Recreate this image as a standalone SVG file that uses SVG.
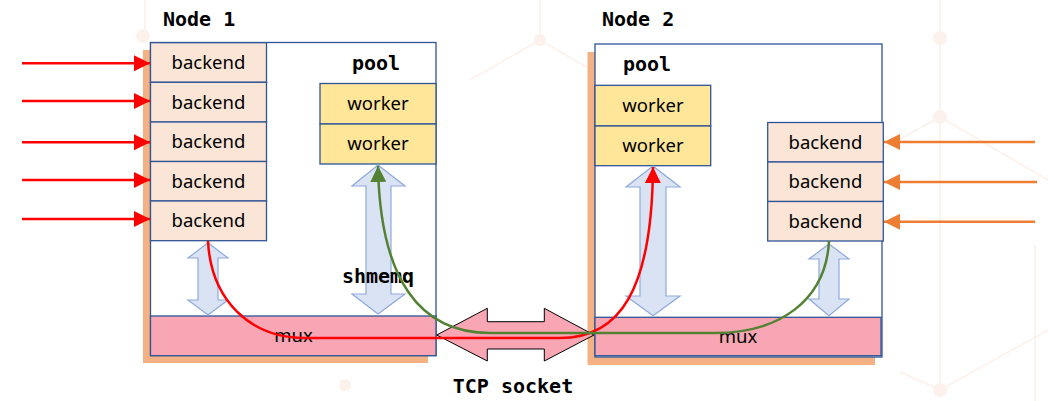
<svg xmlns="http://www.w3.org/2000/svg" width="1048" height="401" viewBox="0 0 1048 401">
<defs>
<style>
.bg{stroke:#FDF3EE;stroke-width:2;fill:none}
.bgc{fill:#FDF1EB}
.shadow{fill:#F4B183}
.box{fill:#FFFFFF;stroke:#2F5597;stroke-width:1.3}
.backend{fill:#FBE5D6;stroke:#2F5597;stroke-width:1.3}
.worker{fill:#FFE699;stroke:#2F5597;stroke-width:1.3}
.mux{fill:#F8A6B3;stroke:#2F5597;stroke-width:1.3}
.dbl{fill:#DAE3F3;stroke:#8FAADC;stroke-width:1.2}
.tcp{fill:#F8A6B3;stroke:#000000;stroke-width:1}
.t{font-family:"Noto Sans","Open Sans",sans-serif;font-size:18.5px;fill:#000;text-anchor:middle}
.m{font-family:"DejaVu Sans Mono","Liberation Mono",monospace;font-weight:bold;font-size:20px;fill:#000}
.red{stroke:#FF0000;stroke-width:2.5;fill:none}
.grn{stroke:#548235;stroke-width:2.5;fill:none}
.org{stroke:#ED7D31;stroke-width:2.5;fill:none}
</style>
<marker id="ar" viewBox="0 0 10 10" refX="10" refY="5" markerWidth="16" markerHeight="16" markerUnits="userSpaceOnUse" orient="auto"><path d="M0,0 L10,5 L0,10 z" fill="#FF0000"/></marker>
<marker id="ag" viewBox="0 0 10 10" refX="10" refY="5" markerWidth="16" markerHeight="16" markerUnits="userSpaceOnUse" orient="auto"><path d="M0,0 L10,5 L0,10 z" fill="#548235"/></marker>
<marker id="ao" viewBox="0 0 10 10" refX="10" refY="5" markerWidth="16" markerHeight="16" markerUnits="userSpaceOnUse" orient="auto"><path d="M0,0 L10,5 L0,10 z" fill="#ED7D31"/></marker>
</defs>
<rect width="1048" height="401" fill="#FFFFFF"/>
<g id="background">
<path class="bg" d="M940,0 V117 L1048,180 M940,117 L880,150 M940,117 V390 M900,372 L940,390 L1048,330 M1035,245 V401 M145,0 V36 M540,0 V40 L470,80 M540,40 L600,75"/>
<circle class="bgc" cx="940" cy="38" r="7"/>
<circle class="bgc" cx="940" cy="117" r="7"/>
<circle class="bgc" cx="940" cy="390" r="7"/>
<circle class="bgc" cx="143" cy="36" r="7"/>
<circle class="bgc" cx="540" cy="40" r="6"/>
<circle class="bgc" cx="345" cy="385" r="6"/>
</g>
<g id="node1">
<rect class="shadow" x="143" y="50" width="285" height="313"/>
<rect class="box" x="150.5" y="42.5" width="285.5" height="313"/>
<text class="m" x="163" y="26">Node 1</text>
<text class="m" x="352" y="70">pool</text>
</g>
<g id="node2">
<rect class="shadow" x="587.5" y="52" width="287.5" height="313"/>
<rect class="box" x="595" y="44" width="287" height="313"/>
<text class="m" x="602" y="26">Node 2</text>
<text class="m" x="623" y="71">pool</text>
</g>
<g id="n1-backends">
<rect class="backend" x="150.5" y="42.7" width="116" height="39.6"/>
<rect class="backend" x="150.5" y="82.3" width="116" height="39.7"/>
<rect class="backend" x="150.5" y="122" width="116" height="39.5"/>
<rect class="backend" x="150.5" y="161.5" width="116" height="39.5"/>
<rect class="backend" x="150.5" y="201" width="116" height="39.7"/>
<text class="t" x="208.5" y="69">backend</text>
<text class="t" x="208.5" y="108.5">backend</text>
<text class="t" x="208.5" y="148">backend</text>
<text class="t" x="208.5" y="187.5">backend</text>
<text class="t" x="208.5" y="227">backend</text>
</g>
<g id="n1-workers">
<rect class="worker" x="320" y="83.5" width="116" height="40.5"/>
<rect class="worker" x="320" y="124" width="116" height="40"/>
<text class="t" x="378" y="110">worker</text>
<text class="t" x="378" y="150">worker</text>
</g>
<g id="n1-mux">
<rect class="mux" x="150.5" y="316" width="285.5" height="39.7"/>
<text class="t" x="293.5" y="342">mux</text>
</g>
<g id="n2-workers">
<rect class="worker" x="595" y="85.3" width="115.7" height="40.7"/>
<rect class="worker" x="595" y="126" width="115.7" height="39.7"/>
<text class="t" x="653" y="111.5">worker</text>
<text class="t" x="653" y="151.5">worker</text>
</g>
<g id="n2-backends">
<rect class="backend" x="767.7" y="122.5" width="115.6" height="39.5"/>
<rect class="backend" x="767.7" y="162" width="115.6" height="39.5"/>
<rect class="backend" x="767.7" y="201.5" width="115.6" height="39.5"/>
<text class="t" x="825.5" y="148.5">backend</text>
<text class="t" x="825.5" y="188">backend</text>
<text class="t" x="825.5" y="227.5">backend</text>
</g>
<g id="n2-mux">
<rect class="mux" x="595" y="317.3" width="286" height="38.4"/>
<text class="t" x="738" y="343">mux</text>
</g>
<g id="shmemq-arrows">
<path class="dbl" d="M208,242.7 L228,258 L218,258 L218,300 L228,300 L208,315 L188,300 L198,300 L198,258 L188,258 Z"/>
<path class="dbl" d="M378,165 L405,186 L391,186 L391,294 L405,294 L378,314 L352,294 L366,294 L366,186 L352,186 Z"/>
<text class="m" x="378" y="283" text-anchor="middle" font-size="18">shmemq</text>
<path class="dbl" d="M653,166 L680,187 L666,187 L666,296 L680,296 L653,315.7 L626,296 L640,296 L640,187 L626,187 Z"/>
<path class="dbl" d="M829,244 L849,259 L839,259 L839,299 L849,299 L829,315.7 L809,299 L819,299 L819,259 L809,259 Z"/>
</g>
<g id="tcp-socket">
<path class="tcp" d="M436.7,335 L487.3,308.3 L487.3,321.7 L544.3,321.7 L544.3,308.3 L594,335 L544.3,361 L544.3,349 L487.3,349 L487.3,361 Z"/>
<text class="m" x="513" y="393" text-anchor="middle">TCP socket</text>
</g>
<g id="connectors">
<line class="red" x1="22" y1="63.3" x2="150" y2="63.3" marker-end="url(#ar)"/>
<line class="red" x1="22" y1="101" x2="150" y2="101" marker-end="url(#ar)"/>
<line class="red" x1="22" y1="142.3" x2="150" y2="142.3" marker-end="url(#ar)"/>
<line class="red" x1="22" y1="180" x2="150" y2="180" marker-end="url(#ar)"/>
<line class="red" x1="22" y1="219" x2="150" y2="219" marker-end="url(#ar)"/>
<line class="org" x1="1035" y1="142" x2="884" y2="142" marker-end="url(#ao)"/>
<line class="org" x1="1037" y1="182" x2="884" y2="182" marker-end="url(#ao)"/>
<line class="org" x1="1035" y1="221.7" x2="884" y2="221.7" marker-end="url(#ao)"/>
<path class="red" d="M208,241 C211,300 250,338 305,338 L560,338 C620,338 652,290 653,167" marker-end="url(#ar)"/>
<path class="grn" d="M829,241 C826,300 780,333 715,333 L490,333 C420,333 380,280 378,166" marker-end="url(#ag)"/>
</g>
</svg>
